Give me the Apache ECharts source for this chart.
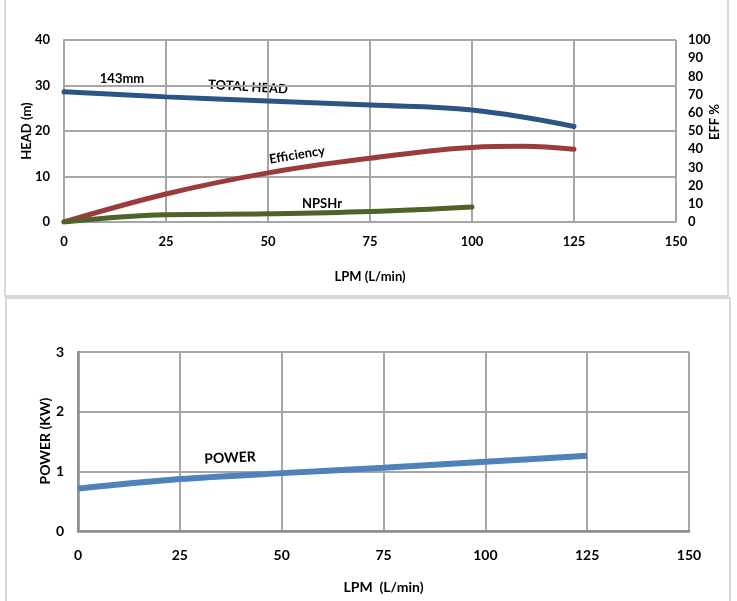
<!DOCTYPE html>
<html>
<head>
<meta charset="utf-8">
<script src="https://cdn.jsdelivr.net/npm/echarts@6/dist/echarts.min.js"></script>
<style>
html,body{margin:0;padding:0;background:#fff;}
#c{width:737px;height:601px;}
</style>
</head>
<body>
<div id="c"></div>
<script>
// ---- data ----
var flowTicks = [0, 25, 50, 75, 100, 125, 150];
var headFlow = [0, 25, 50, 75, 100, 125];
var totalHead = [28.6, 27.5, 26.6, 25.7, 24.6, 21.0];
var effFlow = [0, 25, 50, 75, 100, 112.5, 125];
var efficiency = [0, 15.4, 27, 35, 41, 41.6, 40];
var npshFlow = [0, 25, 50, 75, 100];
var npshr = [0, 1.6, 1.8, 2.3, 3.3];
var powerFlow = [0, 25, 50, 75, 100, 125];
var power = [0.71, 0.87, 0.97, 1.06, 1.16, 1.26];
var seriesNames = ['TOTAL HEAD', 'Efficiency', 'NPSHr', 'POWER'];
var axisNames = ['HEAD (m)', 'EFF %', 'POWER (KW)'];

function pairs(xs, ys){ return xs.map(function(x,i){ return [x, ys[i]]; }); }

var FONT = 'Lato';
var lbl = {color:'#000', fontFamily:FONT, fontWeight:'bold', fontSize:13};
var chart = echarts.init(document.getElementById('c'), null, {renderer:'canvas'});
var gridTop = '#a6a6a6';
function vtext(txt, x, y, size){
  return {type:'text', x:x, y:y, rotation:Math.PI/2,
    style:{text:txt, fill:'#000', font:'bold '+size+'px Lato', textAlign:'center', textVerticalAlign:'middle'}};
}
var option = {
  animation:false,
  backgroundColor:'#fff',
  grid:[
    {left:64, right:61, top:40, height:182},
    {left:78, right:48, top:352, height:179}
  ],
  xAxis:[
    {gridIndex:0, type:'value', min:0, max:150, interval:25,
     name:'LPM (L/min)', nameLocation:'middle', nameGap:48,
     nameTextStyle:{color:'#000', fontFamily:FONT, fontWeight:'bold', fontSize:13},
     axisLine:{show:true, lineStyle:{color:gridTop, width:2}}, axisTick:{show:false},
     axisLabel:Object.assign({margin:13}, lbl),
     splitLine:{show:true, lineStyle:{color:gridTop, width:2}}},
    {gridIndex:1, type:'value', min:0, max:150, interval:25,
     name:'LPM  (L/min)', nameLocation:'middle', nameGap:49,
     nameTextStyle:{color:'#000', fontFamily:FONT, fontWeight:'bold', fontSize:14},
     axisLine:{show:true, lineStyle:{color:'#8c8c8c', width:2.5}}, axisTick:{show:false},
     axisLabel:Object.assign({margin:17}, lbl, {fontSize:14}),
     splitLine:{show:true, lineStyle:{color:'#a6a6a6', width:2}}}
  ],
  yAxis:[
    {gridIndex:0, type:'value', min:0, max:40, interval:10,
     axisLine:{show:true, lineStyle:{color:gridTop, width:2}}, axisTick:{show:false},
     axisLabel:Object.assign({margin:14}, lbl),
     splitLine:{show:true, lineStyle:{color:gridTop, width:2}}},
    {gridIndex:0, type:'value', min:0, max:100, interval:10, position:'right',
     axisLine:{show:false}, axisTick:{show:false},
     axisLabel:Object.assign({margin:12}, lbl),
     splitLine:{show:false}},
    {gridIndex:1, type:'value', min:0, max:3, interval:1,
     axisLine:{show:true, lineStyle:{color:'#8c8c8c', width:2.5}}, axisTick:{show:false},
     axisLabel:Object.assign({margin:14}, lbl, {fontSize:14}),
     splitLine:{show:true, lineStyle:{color:'#a6a6a6', width:2}}}
  ],
  series:[
    {name:seriesNames[0], type:'line', xAxisIndex:0, yAxisIndex:0, smooth:0.4, symbol:'none',
     data:pairs(headFlow, totalHead), lineStyle:{color:'#2c5587', width:5, cap:'round'}},
    {name:seriesNames[1], type:'line', xAxisIndex:0, yAxisIndex:1, smooth:0.4, symbol:'none',
     data:pairs(effFlow, efficiency), lineStyle:{color:'#9b3b3b', width:5, cap:'round'}},
    {name:seriesNames[2], type:'line', xAxisIndex:0, yAxisIndex:0, smooth:0.4, symbol:'none',
     data:pairs(npshFlow, npshr), lineStyle:{color:'#4f6228', width:5, cap:'round'}},
    {name:seriesNames[3], type:'line', xAxisIndex:1, yAxisIndex:2, smooth:0.3, symbol:'none',
     data:pairs(powerFlow, power), lineStyle:{color:'#4f81bd', width:6, cap:'butt'}}
  ],
  graphic:[
    {type:'rect', z:-10, shape:{x:5, y:-10, width:723, height:306}, style:{fill:'none', stroke:'#d9d9d9', lineWidth:2}},
    {type:'rect', z:-10, shape:{x:6, y:298, width:724, height:320}, style:{fill:'none', stroke:'#d9d9d9', lineWidth:2}},
    vtext(axisNames[0], 27, 131, 13),
    vtext(axisNames[1], 715, 122, 13),
    vtext(axisNames[2], 45, 441, 14),
    {type:'text', x:122, y:79, style:{text:'143mm', fill:'#000', font:'bold 13px Lato', textAlign:'center', textVerticalAlign:'middle'}},
    {type:'text', x:248, y:87, rotation:-0.06, style:{text:seriesNames[0], fill:'#000', font:'bold 13px Lato', textAlign:'center', textVerticalAlign:'middle'}},
    {type:'text', x:297, y:155, rotation:0.165, style:{text:seriesNames[1], fill:'#000', font:'bold 13px Lato', textAlign:'center', textVerticalAlign:'middle'}},
    {type:'text', x:322, y:204, style:{text:seriesNames[2], fill:'#000', font:'bold 13px Lato', textAlign:'center', textVerticalAlign:'middle'}},
    {type:'text', x:230, y:458, rotation:0.05, style:{text:seriesNames[3], fill:'#000', font:'bold 14px Lato', textAlign:'center', textVerticalAlign:'middle'}}
  ]
};
chart.setOption(option);
</script>
</body>
</html>
